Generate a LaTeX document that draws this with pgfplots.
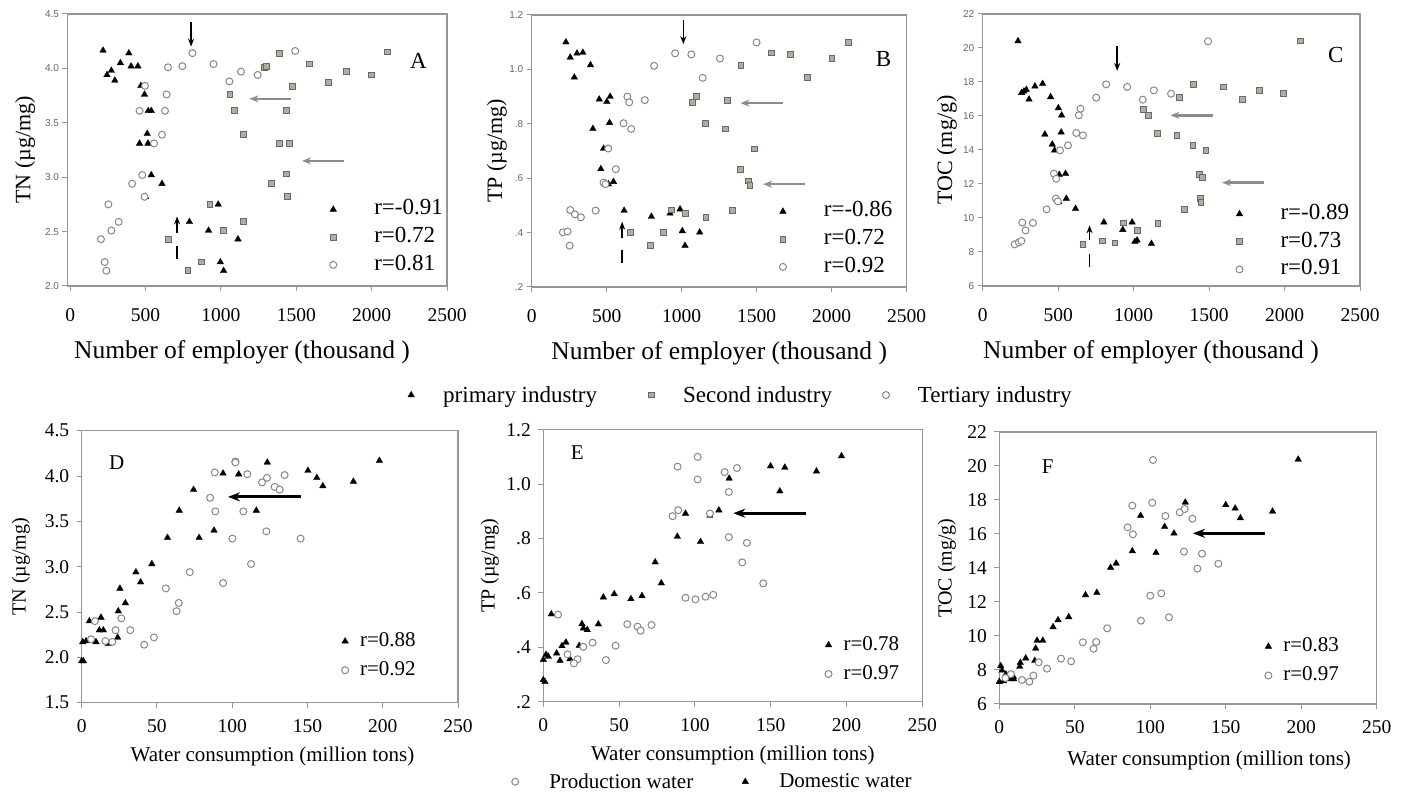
\documentclass[border=0pt]{standalone}
\usepackage{fontspec}
\setmainfont{Liberation Serif}
\newfontfamily\sansf{Liberation Sans}
\usepackage{pgfplots}
\pgfplotsset{compat=1.18}
\usetikzlibrary{arrows.meta}
\definecolor{axgray}{RGB}{150,150,150}
\definecolor{sqdraw}{RGB}{105,105,95}
\definecolor{sqfill}{RGB}{175,172,160}
\definecolor{cgray}{RGB}{135,135,135}
\definecolor{agray}{RGB}{140,140,140}
\newcommand{\fs}[1]{\fontsize{#1}{#1}\selectfont}
\pgfplotsset{
 prim/.style={only marks, mark=triangle*, mark size=3.8pt, mark options={fill=black, draw=black, line width=0.3pt}},
 sec/.style={only marks, mark=square*, mark size=2.9pt, mark options={fill=sqfill, draw=sqdraw, line width=1pt}},
 ter/.style={only marks, mark=*, mark size=3.5pt, mark options={fill=white, draw=cgray, line width=1pt}},
 base/.style={scale only axis, axis line style={axgray, line width=1.2pt}, tick style={axgray, line width=1pt},
   tick align=outside, major tick length=5pt, xtick pos=bottom, ytick pos=left, clip=false, legend cell align=left},
 rlegtop/.style={legend image code/.code={\path[draw=none,fill=none] (0pt,-2pt) rectangle (51pt,2pt); \draw[##1] plot coordinates {(10pt,0pt)};},
   legend style={draw=none, fill=none, inner sep=0pt, anchor=north west, row sep=6.7pt,
   nodes={inner sep=0pt, font=\fs{23}, text height=16pt, text depth=5pt}}},
 rlegbot/.style={legend image code/.code={\path[draw=none,fill=none] (0pt,-2pt) rectangle (25pt,2pt); \draw[##1] plot coordinates {(10pt,0pt)};},
   legend style={draw=none, fill=none, inner sep=0pt, anchor=north west, row sep=9.5pt,
   nodes={inner sep=0pt, font=\fs{21}, text height=15pt, text depth=4.5pt}}},
 topax/.style={base, height=272pt, xmax=2500, xtick={0,500,1000,1500,2000,2500}, xticklabels={0,500,1000,1500,2000,2500},
   xticklabel style={font=\fs{19.5}, yshift=-14pt}, yticklabel style={font=\sansf\fs{10}, text=black!60},
   xlabel={Number of employer (thousand )}, xlabel style={font=\fs{25.5}, anchor=center}, ylabel style={font=\fs{22}, anchor=center}, rlegtop},
 botax/.style={base, height=272pt, xmin=0, xmax=250, xtick={0,50,100,150,200,250}, xticklabels={0,50,100,150,200,250},
   xticklabel style={font=\fs{19.5}, yshift=-8pt}, yticklabel style={font=\fs{19.5}, xshift=-4pt},
   xlabel={Water consumption (million tons)}, xlabel style={font=\fs{21}, anchor=center}, ylabel style={font=\fs{20}, anchor=center}, rlegbot},
 thinarr/.style={forget plot, black, line width=1.5pt, -{Stealth[length=8pt,width=6pt]}},
 thinln/.style={forget plot, black, line width=1.5pt},
 grayarr/.style={forget plot, agray, line width=2.5pt, -{Stealth[length=9pt,width=7pt]}},
 blkarr/.style={forget plot, black, line width=3pt, -{Stealth[length=12pt,width=9pt]}},
}
\begin{document}
\begin{tikzpicture}
\path[use as bounding box] (0pt,0pt) rectangle (1406pt,795pt);

% ---------- A ----------
\begin{axis}[topax, at={(67.5pt,509pt)}, anchor=south west, width=379.5pt, xmin=-18,
  ymin=2, ymax=4.5, ytick={2,2.5,3,3.5,4,4.5}, yticklabels={2.0,2.5,3.0,3.5,4.0,4.5},
  ylabel={TN (µg/mg)}, ylabel style={at={(axis description cs:-0.112,0.5)}},
  xlabel style={at={(axis description cs:0.46,-0.243)}},
  legend style={at={(axis description cs:0.6735,0.3206)}}]
\addplot[prim] coordinates {(218,4.165)(389,4.14)(333,4.05)(273,3.98)(244,3.94)(296,3.89)(404,4.02)(449,4.02)(469,3.84)(493,3.76)(518,3.61)(538,3.61)(511,3.40)(460,3.31)(516,3.31)(538,3.02)(609,2.94)(500,2.82)(982,2.75)(791,2.59)(918,2.51)(1113,2.43)(996,2.22)(1018,2.14)};
\addlegendentry{r=-0.91}
\addplot[sec] coordinates {(1391,4.14)(1289,4.01)(1300,4.02)(1589,4.04)(2107,4.15)(1833,3.97)(2000,3.94)(1716,3.87)(1473,3.83)(1060,3.76)(1089,3.61)(1433,3.61)(1151,3.39)(1387,3.31)(1453,3.31)(1433,3.03)(1333,2.94)(1444,2.82)(927,2.75)(1151,2.59)(1018,2.51)(651,2.43)(871,2.22)(782,2.14)};
\addlegendentry{r=0.72}
\addplot[ter] coordinates {(811,4.14)(1493,4.16)(951,4.04)(649,4.01)(744,4.02)(1133,3.97)(1244,3.94)(1056,3.88)(496,3.84)(640,3.76)(460,3.61)(629,3.61)(609,3.39)(556,3.31)(478,3.02)(411,2.94)(493,2.82)(253,2.75)(322,2.59)(273,2.51)(204,2.43)(229,2.22)(240,2.14)};
\addlegendentry{r=0.81}
\addplot[thinarr] coordinates {(802,4.43)(802,4.20)};
\addplot[thinarr] coordinates {(709,2.49)(709,2.64)};
\addplot[thinln] coordinates {(709,2.37)(709,2.25)};
\addplot[grayarr] coordinates {(1467,3.72)(1189,3.72)};
\addplot[grayarr] coordinates {(1818,3.15)(1538,3.15)};
\node[font=\fs{23}] at (axis cs:2311,4.07) {A};
\end{axis}

% ---------- B ----------
\begin{axis}[topax, at={(531.7pt,508pt)}, anchor=south west, width=375pt, xmin=0,
  ymin=0.2, ymax=1.2, ytick={0.2,0.4,0.6,0.8,1.0,1.2}, yticklabels={.2,.4,.6,.8,1.0,1.2},
  ylabel={TP (µg/mg)}, ylabel style={at={(axis description cs:-0.093,0.5)}},
  xlabel style={at={(axis description cs:0.5,-0.243)}},
  legend style={at={(axis description cs:0.6427,0.317)}}]
\addplot[prim] coordinates {(228,1.100)(257,1.044)(302,1.059)(341,1.062)(392,1.016)(284,0.971)(450,0.890)(501,0.881)(523,0.900)(519,0.804)(408,0.782)(479,0.709)(461,0.634)(488,0.578)(512,0.578)(545,0.587)(616,0.481)(798,0.459)(922,0.471)(989,0.486)(1004,0.406)(1022,0.352)(1120,0.401)};
\addlegendentry{r=-0.86}
\addplot[sec] coordinates {(2113,1.100)(1601,1.060)(1725,1.056)(2002,1.040)(1395,1.013)(1840,0.969)(1100,0.900)(1071,0.879)(1306,0.887)(1160,0.802)(1293,0.781)(1483,0.707)(1392,0.633)(1443,0.590)(1455,0.574)(933,0.483)(1027,0.470)(1162,0.456)(1337,0.480)(661,0.401)(876,0.401)(794,0.352)};
\addlegendentry{r=0.72}
\addplot[ter] coordinates {(1499,1.099)(956,1.059)(1064,1.055)(1255,1.040)(816,1.013)(1140,0.969)(638,0.900)(650,0.879)(754,0.887)(612,0.802)(663,0.781)(510,0.709)(561,0.633)(479,0.584)(492,0.578)(426,0.481)(257,0.483)(288,0.467)(328,0.456)(208,0.401)(239,0.404)(253,0.352)};
\addlegendentry{r=0.92}
\addplot[thinarr] coordinates {(1011,1.181)(1011,1.093)};
\addplot[thinarr] coordinates {(603,0.379)(603,0.440)};
\addplot[thinln] coordinates {(603,0.336)(603,0.287)};
\addplot[grayarr] coordinates {(1674,0.876)(1392,0.876)};
\addplot[grayarr] coordinates {(1824,0.578)(1543,0.578)};
\node[font=\fs{23}] at (axis cs:2346,1.04) {B};
\end{axis}

% ---------- C ----------
\begin{axis}[topax, at={(982.7pt,509pt)}, anchor=south west, width=377.3pt, xmin=0,
  ymin=6, ymax=22, ytick={6,8,10,12,14,16,18,20,22}, yticklabels={6,8,10,12,14,16,18,20,22},
  ylabel={TOC (mg/g)}, ylabel style={at={(axis description cs:-0.095,0.5)}},
  xlabel style={at={(axis description cs:0.446,-0.243)}},
  legend style={at={(axis description cs:0.6536,0.304)}}]
\addplot[prim] coordinates {(234,20.41)(258,17.37)(273,17.45)(289,17.55)(307,16.98)(346,17.75)(397,17.90)(450,17.12)(501,16.47)(523,16.04)(520,15.04)(412,14.92)(461,14.33)(476,13.98)(507,12.55)(549,12.61)(503,10.94)(554,11.14)(615,10.55)(803,9.75)(990,9.75)(928,9.31)(1008,8.61)(1023,8.69)(1118,8.49)};
\addlegendentry{r=-0.89}
\addplot[sec] coordinates {(2104,20.41)(1398,17.86)(1597,17.71)(1835,17.51)(1993,17.31)(1722,16.96)(1305,17.08)(1067,16.37)(1096,16.04)(1160,14.96)(1288,14.86)(1394,14.27)(1480,13.98)(1434,12.57)(1458,12.37)(1442,11.14)(1447,10.90)(1336,10.51)(931,9.71)(1023,9.27)(1162,9.67)(664,8.45)(792,8.65)(876,8.53)};
\addlegendentry{r=0.73}
\addplot[ter] coordinates {(1493,20.39)(818,17.86)(957,17.71)(1134,17.51)(1061,16.96)(1248,17.31)(752,17.08)(648,16.43)(637,16.04)(620,15.0)(664,14.86)(565,14.27)(512,13.98)(472,12.61)(487,12.31)(485,11.14)(498,10.98)(423,10.51)(262,9.73)(333,9.71)(284,9.27)(212,8.45)(240,8.57)(256,8.65)};
\addlegendentry{r=0.91}
\addplot[thinarr] coordinates {(891,20.1)(891,18.65)};
\addplot[thinarr] coordinates {(708,8.69)(708,9.57)};
\addplot[thinln] coordinates {(708,7.9)(708,7.12)};
\addplot[grayarr] coordinates {(1526,16.04)(1244,16.04)};
\addplot[grayarr] coordinates {(1866,12.08)(1586,12.08)};
\node[font=\fs{23}] at (axis cs:2340,19.57) {C};
\end{axis}

% ---------- D ----------
\begin{axis}[botax, at={(81.7pt,92.3pt)}, anchor=south west, width=376.3pt,
  ymin=1.5, ymax=4.5, ytick={1.5,2,2.5,3,3.5,4,4.5}, yticklabels={1.5,2.0,2.5,3.0,3.5,4.0,4.5},
  ylabel={TN (µg/mg)}, ylabel style={at={(axis description cs:-0.162,0.5)}},
  xlabel style={at={(axis description cs:0.507,-0.196)}},
  legend style={at={(axis description cs:0.673,0.2625)}}]
\addplot[prim] coordinates {(197.8,4.17)(123.3,4.15)(150.3,4.06)(156.2,3.98)(160.2,3.89)(180.5,3.94)(93.9,4.03)(104.3,4.02)(74.3,3.85)(64.8,3.62)(116.0,3.62)(57.0,3.32)(78.0,3.32)(87.9,3.40)(46.6,3.03)(36.0,2.94)(39.1,2.83)(25.4,2.76)(29.0,2.60)(24.3,2.51)(23.9,2.22)(12.8,2.44)(5.1,2.40)(11.7,2.30)(14.4,2.30)(9.5,2.17)(17.7,2.15)(0.7,2.17)(2.9,2.18)(0,1.96)(1.1,1.96)};
\addlegendentry{r=0.88}
\addplot[ter] coordinates {(102.1,4.16)(102.1,4.15)(88.4,4.04)(110.0,4.02)(134.8,4.01)(119.8,3.93)(123.1,3.98)(128.2,3.88)(131.5,3.85)(85.3,3.76)(88.8,3.61)(107.4,3.61)(122.7,3.39)(100.1,3.31)(145.4,3.31)(112.5,3.03)(71.8,2.94)(93.9,2.82)(55.9,2.76)(64.5,2.60)(63.0,2.51)(26.3,2.43)(22.5,2.30)(32.3,2.30)(8.8,2.40)(15.7,2.18)(20.3,2.17)(6.2,2.20)(48.0,2.22)(41.5,2.14)};
\addlegendentry{r=0.92}
\addplot[blkarr] coordinates {(145.9,3.77)(97.2,3.77)};
\node[font=\fs{21}] at (axis cs:23.2,4.15) {D};
\end{axis}

% ---------- E ----------
\begin{axis}[botax, at={(543.3pt,93.3pt)}, anchor=south west, width=379pt,
  ymin=0.2, ymax=1.2, ytick={0.2,0.4,0.6,0.8,1.0,1.2}, yticklabels={.2,.4,.6,.8,1.0,1.2},
  ylabel={TP (µg/mg)}, ylabel style={at={(axis description cs:-0.141,0.5)}},
  xlabel style={at={(axis description cs:0.5,-0.196)}},
  legend style={at={(axis description cs:0.7256,0.245)}}]
\addplot[prim] coordinates {(196.7,1.103)(149.9,1.066)(159.3,1.061)(180.2,1.047)(156.0,0.974)(122.6,1.021)(93.8,0.892)(109.9,0.885)(115.8,0.904)(88.4,0.807)(103.7,0.788)(73.8,0.713)(77.8,0.636)(39.6,0.584)(46.8,0.596)(57.8,0.578)(65.1,0.589)(36.3,0.485)(25.5,0.486)(26.4,0.470)(29.0,0.464)(5.3,0.522)(23.7,0.406)(14.9,0.418)(12.3,0.405)(8.8,0.378)(11.0,0.351)(17.6,0.357)(1.8,0.373)(3.3,0.366)(0,0.354)(0,0.280)(1.1,0.273)};
\addlegendentry{r=0.78}
\addplot[ter] coordinates {(101.8,1.100)(88.6,1.064)(127.7,1.059)(119.6,1.044)(101.8,1.017)(122.4,0.971)(85.3,0.882)(89.0,0.904)(109.9,0.892)(122.4,0.805)(134.3,0.784)(131.2,0.712)(145.1,0.635)(93.8,0.582)(100.4,0.576)(107.0,0.586)(112.1,0.593)(55.4,0.485)(62.2,0.476)(64.2,0.461)(71.4,0.482)(47.7,0.406)(32.5,0.417)(26.4,0.402)(41.3,0.353)(22.6,0.356)(20.2,0.341)(16.0,0.374)(9.7,0.520)};
\addlegendentry{r=0.97}
\addplot[blkarr] coordinates {(173.2,0.893)(125.3,0.893)};
\node[font=\fs{21}] at (axis cs:22.4,1.115) {E};
\end{axis}

% ---------- F ----------
\begin{axis}[botax, at={(999.3pt,91pt)}, anchor=south west, width=377.4pt,
  ymin=6, ymax=22, ytick={6,8,10,12,14,16,18,20,22}, yticklabels={6,8,10,12,14,16,18,20,22},
  ylabel={TOC (mg/g)}, ylabel style={at={(axis description cs:-0.139,0.5)}},
  xlabel style={at={(axis description cs:0.556,-0.206)}},
  legend style={at={(axis description cs:0.686,0.248)}}]
\addplot[prim] coordinates {(198.0,20.39)(123.2,17.86)(150.0,17.71)(156.2,17.51)(159.7,16.94)(181.0,17.33)(93.6,17.08)(109.5,16.43)(115.7,16.04)(88.1,15.0)(103.8,14.90)(73.7,14.02)(77.4,14.27)(57.1,12.41)(64.6,12.55)(35.6,10.53)(38.9,10.94)(46.0,11.12)(25.0,9.73)(28.8,9.73)(24.1,9.27)(23.5,8.55)(17.5,8.69)(13.9,8.43)(13.5,8.20)(0.9,8.24)(1.8,7.98)(4.4,7.75)(9.3,7.61)(7.7,7.47)(0,7.31)(2.9,7.35)(9.5,7.47)};
\addlegendentry{r=0.83}
\addplot[ter] coordinates {(101.8,20.35)(101.3,17.84)(88.1,17.67)(110.0,17.06)(119.5,17.27)(122.8,17.47)(127.9,16.90)(85.0,16.39)(88.5,15.98)(122.3,14.96)(134.3,14.84)(131.2,13.96)(145.1,14.25)(100.0,12.37)(107.3,12.51)(93.8,10.90)(112.4,11.10)(71.5,10.45)(55.3,9.63)(64.2,9.65)(62.4,9.25)(40.9,8.67)(47.6,8.51)(26.1,8.45)(31.6,8.08)(22.6,7.67)(19.9,7.31)(15.0,7.41)(7.7,7.76)(4.0,7.53)};
\addlegendentry{r=0.97}
\addplot[blkarr] coordinates {(175.9,16.04)(128.3,16.04)};
\node[font=\fs{21}] at (axis cs:32.1,19.96) {F};
\end{axis}

% ---------- global legends ----------
\begin{axis}[hide axis, scale only axis, width=1406pt, height=795pt, at={(0pt,0pt)}, anchor=south west,
  xmin=0, xmax=1406, ymin=0, ymax=795, legend columns=3, legend cell align=left,
  legend image code/.code={\path[draw=none,fill=none] (0pt,-2pt) rectangle (42pt,2pt); \draw[#1] plot coordinates {(10pt,0pt)};},
  legend style={draw=none, fill=none, inner sep=0pt, at={(axis description cs:0.2852,0.5031)}, anchor=west,
    nodes={inner sep=0pt, font=\fs{23}}, /tikz/every even column/.append style={column sep=44pt}}]
\addlegendimage{prim}
\addlegendentry{primary industry}
\addlegendimage{sec}
\addlegendentry{Second industry}
\addlegendimage{ter}
\addlegendentry{Tertiary industry}
\end{axis}
\begin{axis}[hide axis, scale only axis, width=1406pt, height=795pt, at={(0pt,0pt)}, anchor=south west,
  xmin=0, xmax=1406, ymin=0, ymax=795, legend columns=2, legend cell align=left,
  legend image code/.code={\path[draw=none,fill=none] (0pt,-2pt) rectangle (44pt,2pt); \draw[#1] plot coordinates {(10pt,0pt)};},
  legend style={draw=none, fill=none, inner sep=0pt, at={(axis description cs:0.3592,0.0167)}, anchor=west,
    nodes={inner sep=0pt, font=\fs{21}}, /tikz/every even column/.append style={column sep=42pt}}]
\addlegendimage{ter}
\addlegendentry{Production water}
\addlegendimage{prim}
\addlegendentry{Domestic water}
\end{axis}
\end{tikzpicture}
\end{document}
